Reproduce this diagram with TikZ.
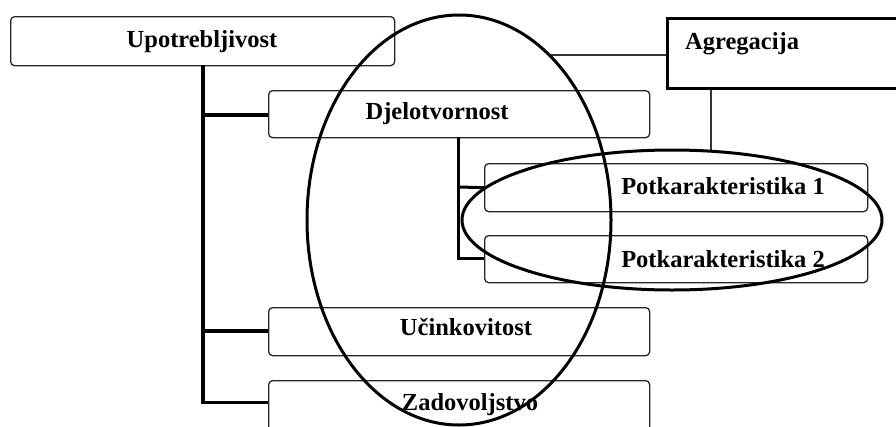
\documentclass[tikz,border=0pt]{standalone}
\usepackage{fontspec}
\setmainfont{Liberation Serif}
\begin{document}
\begin{tikzpicture}[x=1pt,y=-1pt,
  rbox/.style={draw=black!85, line width=1.3pt, rounded corners=4pt, fill=white, inner sep=0pt, anchor=north west},
  lbl/.style={font=\fontsize{24.5}{28}\selectfont\bfseries, inner sep=0pt, anchor=base},
  tree/.style={line width=4pt},
  subtree/.style={line width=3pt},
  thin/.style={line width=1.3pt, draw=black!80},
  ring/.style={line width=3pt}]
\useasboundingbox (0,0) rectangle (896,426);
\clip (0,0) rectangle (896,426);
% boxes
\node[rbox, minimum width=384pt, minimum height=49pt] (up) at (10,16) {};
\node[rbox, minimum width=381pt, minimum height=47pt] (dj) at (268,90) {};
\node[rbox, minimum width=383pt, minimum height=48pt] (p1) at (484,163) {};
\node[rbox, minimum width=383pt, minimum height=47pt] (p2) at (484,235) {};
\node[rbox, minimum width=381pt, minimum height=48pt] (uc) at (268,307) {};
\node[rbox, minimum width=381pt, minimum height=50pt] (za) at (268,380) {};
\node[draw, line width=3pt, minimum width=240pt, minimum height=70pt, inner sep=0pt, anchor=north west] (ag) at (666,17) {};
% texts
\node[lbl] (tup) at (202,47.5) {Upotrebljivost};
\node[lbl] (tdj) at (437,119) {Djelotvornost};
\node[lbl] (tp1) at (723,194) {Potkarakteristika 1};
\node[lbl] (tp2) at (723,267) {Potkarakteristika 2};
\node[lbl] (tuc) at (466,335) {Učinkovitost};
\node[lbl] (tza) at (470,410) {Zadovoljstvo};
\node[lbl, anchor=base west] (tag) at (685,49) {Agregacija};
% trees
\draw[tree] (203,65) -- (203,404);
\draw[tree] (203,115) -- (dj.west |- 203,115);
\draw[tree] (203,331) -- (uc.west |- 203,331);
\draw[subtree] (201,402) -- (za.west |- 201,402);
\draw[subtree] (458,137) -- (458,258.5) -- (p2.west |- 458,258.5);
\draw[subtree] (458,187) -- (p1.west);
% aggregation links
\coordinate (agl) at (550,55);
\coordinate (agb) at (711,151);
\draw[thin] (agl) -- (ag.west |- agl);
\draw[thin] (ag.south -| agb) -- (agb);
% ellipses
\draw[ring] (459,220) ellipse [x radius=152, y radius=205];
\draw[ring] (672,220) ellipse [x radius=210, y radius=70];
\end{tikzpicture}
\end{document}
